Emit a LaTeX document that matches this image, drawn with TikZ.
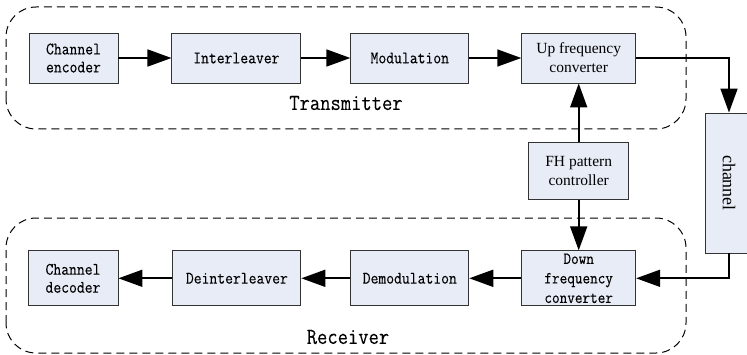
\documentclass[tikz,border=0pt]{standalone}
\usepackage{fontspec}
\setmainfont{Liberation Serif}
\setmonofont{Latin Modern Mono}[FakeStretch=0.87,FakeBold=0.15]
\usetikzlibrary{arrows.meta,positioning}

\definecolor{blockfill}{RGB}{231,236,246}

\tikzset{
  block/.style={rectangle,draw=black!80,fill=blockfill,line width=0.9pt,
                inner sep=0pt,align=center,minimum height=50pt},
  mono block/.style={block,font=\fontsize{17.5}{18}\selectfont\ttfamily},
  serif block/.style={block,font=\fontsize{15.5}{19}\selectfont},
  link/.style={->,line width=1.7pt},
  zone/.style={draw=black,dash pattern=on 8pt off 5pt,
               rounded corners=30pt,line width=1pt},
  zone label/.style={font=\fontsize{23}{26}\selectfont\ttfamily}
}

\begin{document}
\begin{tikzpicture}[x=1pt,y=1pt,node distance=51pt,
                    >={Triangle[length=24pt,width=17pt]}]
  \useasboundingbox (0,0) rectangle (747,354);

  % Transmitter
  \node [mono block,minimum width=89pt] (enc) at (73.5,296) {Channel\\encoder};
  \node [mono block,minimum width=129pt,right=53pt of enc] (inter) {Interleaver};
  \node [mono block,minimum width=118pt,right=49pt of inter] (mod) {Modulation};
  \node [serif block,minimum width=114pt,right=52pt of mod] (up) {Up frequency\\converter};

  % FH controller
  \node [serif block,minimum width=100pt,minimum height=57pt,below=59pt of up] (fh)
    {FH pattern\\controller};

  % Receiver
  \node [mono block,minimum width=114pt,minimum height=55pt,below=50pt of fh,
         font=\fontsize{17}{19.5}\selectfont\ttfamily] (down)
    {Down\\frequency\\converter};
  \node [mono block,minimum width=118pt,minimum height=55pt,left=52pt of down] (demod)
    {Demodulation};
  \node [mono block,minimum width=128pt,minimum height=55pt,left=49pt of demod] (deint)
    {Deinterleaver};
  \node [mono block,minimum width=90pt,minimum height=55pt,left=54pt of deint] (dec)
    {Channel\\decoder};

  % channel
  \node [serif block,minimum width=48pt,minimum height=140pt] (chan) at (729,171)
    {\rotatebox{-90}{\fontsize{18}{20}\selectfont channel}};

  \draw [link] (enc) -- (inter);
  \draw [link] (inter) -- (mod);
  \draw [link] (mod) -- (up);
  \draw [link] (up.east) -| (chan.north);
  \draw [link] (fh) -- (up);
  \draw [link] (fh) -- (down);
  \draw [link] (chan.south) |- (down.east);
  \draw [link] (down) -- (demod);
  \draw [link] (demod) -- (deint);
  \draw [link] (deint) -- (dec);

  \draw [zone] (6,225) rectangle (686,347);
  \node [zone label] (tx) at (346,251) {Transmitter};
  \draw [zone] (6,1) rectangle (686,136);
  \node [zone label] (rx) at (348,17) {Receiver};
\end{tikzpicture}
\end{document}
